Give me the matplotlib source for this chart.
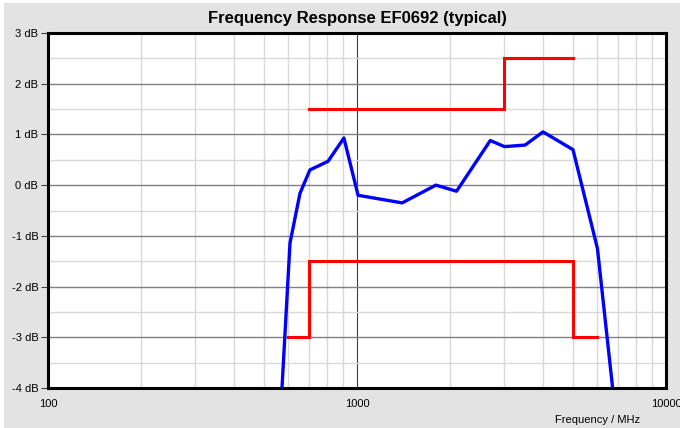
import matplotlib
matplotlib.use("Agg")
import matplotlib.pyplot as plt
from matplotlib.ticker import FixedLocator, NullFormatter
import numpy as np

plt.rcParams['font.family'] = ['Liberation Sans', 'DejaVu Sans']

# Measured response
freq = [560, 607, 654, 704, 806, 907, 1008, 1400, 1800, 2100, 2700, 3000, 3500, 4000, 5000, 6000, 7000]
resp = [-5.0, -1.14, -0.16, 0.30, 0.47, 0.93, -0.20, -0.35, 0.0, -0.12, 0.88, 0.76, 0.79, 1.05, 0.70, -1.25, -5.0]

# Upper limit mask
upper_f = [700, 3000, 3000, 5000]
upper_db = [1.5, 1.5, 2.5, 2.5]

# Lower limit mask
lower_f = [600, 700, 700, 5000, 5000, 6000]
lower_db = [-3.0, -3.0, -1.5, -1.5, -3.0, -3.0]

yticks = [3, 2, 1, 0, -1, -2, -3, -4]
ytick_labels = ["3 dB", "2 dB", "1 dB", "0 dB", "-1 dB", "-2 dB", "-3 dB", "-4 dB"]
xticks = [100, 1000, 10000]
xtick_labels = ["100", "1000", "10000"]

fig = plt.figure(figsize=(6.8, 4.28), dpi=100, facecolor='white')
# gray panel background (white thin border at left/top)
fig.patches.append(plt.Rectangle((4/680, 0), 1, 1 - 3/428, transform=fig.transFigure,
                                 facecolor='#e3e3e3', edgecolor='none', zorder=-10))
ax = fig.add_axes([48/680, 1 - 388/428, (666 - 48)/680, (388 - 33)/428])
ax.set_facecolor('white')

ax.set_xscale('log')
ax.set_xlim(100, 10000)
ax.set_ylim(-4, 3)

# grid
minor_x = [f * d for d in (100, 1000) for f in range(2, 10)]
ax.xaxis.set_minor_locator(FixedLocator(minor_x))
ax.xaxis.set_minor_formatter(NullFormatter())
ax.yaxis.set_minor_locator(FixedLocator(np.arange(-3.5, 3, 1.0)))
ax.grid(which='minor', color='#d9d9d9', linewidth=1.0)
ax.grid(which='major', axis='y', color='#808080', linewidth=1.0)
ax.grid(which='major', axis='x', color='#404040', linewidth=0.8)
ax.set_axisbelow(True)

ax.set_xticks(xticks)
ax.set_xticklabels(xtick_labels)
ax.set_yticks(yticks)
ax.set_yticklabels(ytick_labels)
ax.tick_params(axis='y', which='major', direction='out', length=5, width=0.8, labelsize=8, pad=2, color='#404040')
ax.tick_params(axis='x', which='major', direction='out', length=0, labelsize=8, pad=8)
ax.tick_params(which='minor', length=0)

for s in ax.spines.values():
    s.set_linewidth(2.2)
    s.set_color('black')

ax.plot(upper_f, upper_db, color='#ff0000', linewidth=2.2, solid_joinstyle='miter', zorder=3)
ax.plot(lower_f, lower_db, color='#ff0000', linewidth=2.2, solid_joinstyle='miter', zorder=3)
ax.plot(freq, resp, color='#0000ff', linewidth=2.4, zorder=4, clip_on=True)

fig.text(357/680, 1 - 18/428, "Frequency Response EF0692 (typical)", ha='center', va='center',
         fontsize=12, fontweight='bold')
fig.text(598/680, 1 - 420/428, "Frequency / MHz", ha='center', va='center', fontsize=8)

fig.savefig("out.png", dpi=100, facecolor=fig.get_facecolor())
